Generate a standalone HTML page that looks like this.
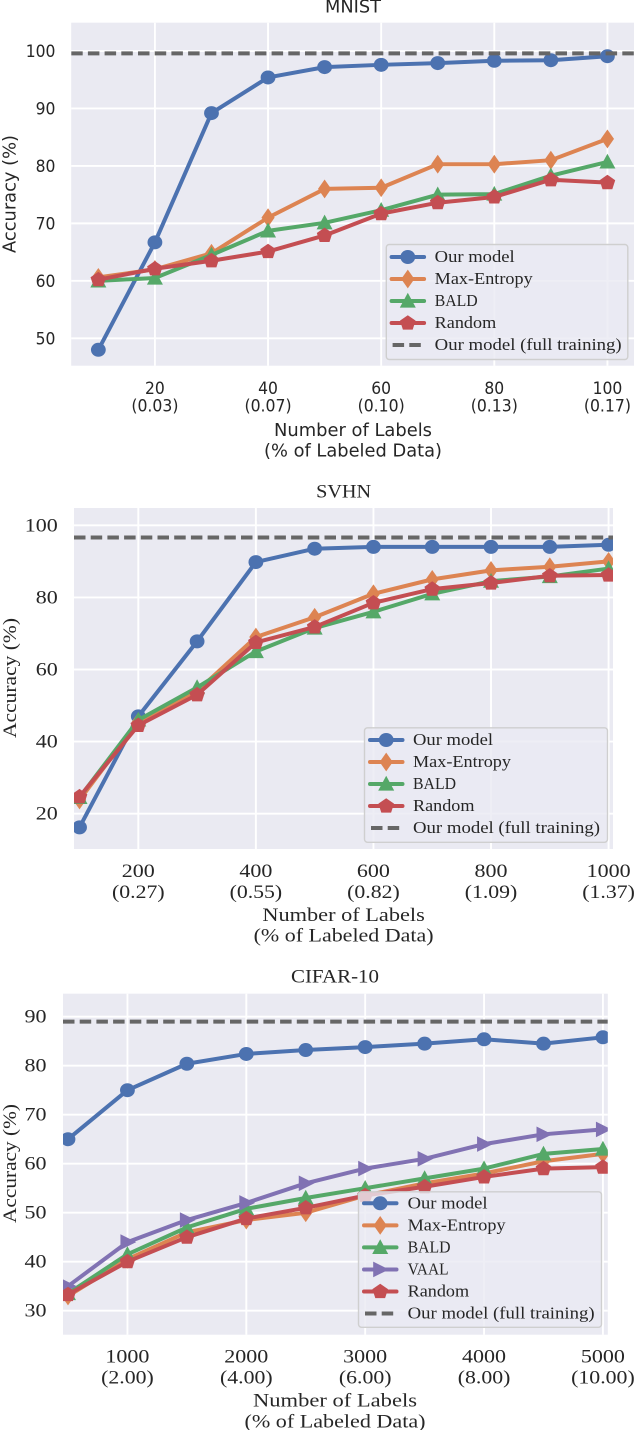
<!DOCTYPE html>
<html>
<head>
<meta charset="utf-8">
<title>Accuracy versus number of labels</title>
<style>
html,body{margin:0;padding:0;background:#fff;width:634px;height:1430px;overflow:hidden}
svg{display:block;filter:blur(0.35px)}
</style>
</head>
<body>
<svg id="figure" xmlns="http://www.w3.org/2000/svg" width="634" height="1430" viewBox="0 0 634 1430"></svg>
<script>
// ---------- MNIST data ----------
const mnistLabels = [10,20,30,40,50,60,70,80,90,100];
const mnistOurModel = [48,66.7,89.2,95.4,97.2,97.6,97.9,98.3,98.4,99.1];
const mnistMaxEntropy = [60.6,62,64.8,71,76,76.2,80.3,80.3,81,84.7];
const mnistBald = [60,60.5,64.5,68.7,70.1,72.3,75,75.1,78.3,80.7];
const mnistRandom = [60.2,62.1,63.5,65.1,67.9,71.7,73.6,74.6,77.6,77.1];
const mnistFullTraining = [99.6];
const mnistXTicks = [20,40,60,80,100];
const mnistXPercents = ['(0.03)','(0.07)','(0.10)','(0.13)','(0.17)'];
const mnistYTicks = [50,60,70,80,90,100];

// ---------- SVHN data ----------
const svhnLabels = [100,200,300,400,500,600,700,800,900,1000];
const svhnOurModel = [16.2,47,67.8,89.8,93.5,94,94,94,94,94.6];
const svhnMaxEntropy = [23.8,45.5,54,69,74.5,81,85,87.5,88.5,90];
const svhnBald = [24.5,46,55,65,71.5,76,81,84.5,85.8,88];
const svhnRandom = [24.7,44.5,53,67.5,71.8,78.5,82.3,84,86,86.2];
const svhnFullTraining = [96.6];
const svhnXTicks = [200,400,600,800,1000];
const svhnXPercents = ['(0.27)','(0.55)','(0.82)','(1.09)','(1.37)'];
const svhnYTicks = [20,40,60,80,100];

// ---------- CIFAR-10 data ----------
const cifarLabels = [500,1000,1500,2000,2500,3000,3500,4000,4500,5000];
const cifarOurModel = [65,75,80.4,82.4,83.2,83.8,84.5,85.4,84.5,85.8];
const cifarMaxEntropy = [33,40.5,46,48.5,50,53.5,56,58,60.5,62];
const cifarBald = [33.5,41.5,47,50.8,53,55,57,59,62,63];
const cifarVaal = [35,44,48.5,52,56,59,61,64,66,67];
const cifarRandom = [33.3,40,45,48.8,51,53.5,55.3,57.3,59,59.3];
const cifarFullTraining = [89];
const cifarXTicks = [1000,2000,3000,4000,5000];
const cifarXPercents = ['(2.00)','(4.00)','(6.00)','(8.00)','(10.00)'];
const cifarYTicks = [30,40,50,60,70,80,90];

// ---------- shared names ----------
const fullTrainingName = 'Our model (full training)';
const xTitleLine1 = 'Number of Labels';
const xTitleLine2 = '(% of Labeled Data)';
const yTitle = 'Accuracy (%)';

const NS = 'http://www.w3.org/2000/svg';
const SANS = '"DejaVu Sans", "Liberation Sans", sans-serif';
const SERIF = '"Liberation Serif", "DejaVu Serif", serif';
const INK = '#262626';
const BG = '#EAEAF2';
const DASH = '#666666';
const root = document.getElementById('figure');

const styleOf = {
  'Our model': {color:'#4C72B0', marker:'circle', slug:'our-model', w:80},
  'Max-Entropy': {color:'#DD8452', marker:'diamond', slug:'max-entropy', w:98},
  'BALD': {color:'#55A868', marker:'triangle', slug:'bald', w:43},
  'VAAL': {color:'#8172B3', marker:'right', slug:'vaal', w:41},
  'Random': {color:'#C44E52', marker:'pentagon', slug:'random', w:61.5}
};

function make(tag, parent, attrs) {
  const el = document.createElementNS(NS, tag);
  for (const k in attrs) el.setAttribute(k, attrs[k]);
  parent.appendChild(el);
  return el;
}

function label(parent, str, x, y, o, name) {
  const el = make('text', parent, {x:x, y:y, fill:INK, 'font-family':o.font, 'font-size':o.size, 'text-anchor':o.anchor || 'middle'});
  if (o.width) {
    el.setAttribute('textLength', o.width);
    el.setAttribute('lengthAdjust', 'spacingAndGlyphs');
  }
  if (o.rotate) el.setAttribute('transform', 'rotate(-90 ' + x + ' ' + y + ')');
  el.textContent = str;
  
  
  return el;
}

function serifWidth(str) {
  let w = 0;
  for (const c of String(str)) w += c === '.' ? 5.6 : (c === '(' || c === ')') ? 7 : 11;
  return w;
}

function sansWidth(str) {
  let w = 0;
  for (const c of String(str)) w += c === '.' ? 5 : (c === '(' || c === ')') ? 6.2 : 9.9;
  return w;
}

function tickFontOf(c, str, anchor) {
  if (c.tickFont === SANS) return {font:SANS, size:17, anchor:anchor, width:sansWidth(str)};
  return {font:SERIF, size:18.5, anchor:anchor, width:serifWidth(str)};
}

function marker(parent, kind, cx, cy, color, name) {
  let el;
  const pts = function (list) { return list.map(function (p) { return (cx + p[0]) + ',' + (cy + p[1]); }).join(' '); };
  if (kind === 'circle') {
    el = make('ellipse', parent, {cx:cx, cy:cy, rx:7.4, ry:7, fill:color});
  } else if (kind === 'diamond') {
    el = make('polygon', parent, {points:pts([[0,-9.4],[6.6,0],[0,9.4],[-6.6,0]]), fill:color});
  } else if (kind === 'triangle') {
    el = make('polygon', parent, {points:pts([[0,-8.2],[8,6.6],[-8,6.6]]), fill:color});
  } else if (kind === 'right') {
    el = make('polygon', parent, {points:pts([[8.8,0],[-7,-7.8],[-7,7.8]]), fill:color});
  } else {
    el = make('polygon', parent, {points:pts([[0,-7.8],[7.8,-2.4],[4.9,6.6],[-4.9,6.6],[-7.8,-2.4]]), fill:color});
  }
  
  
  return el;
}

function drawChart(c) {
  const xPos = function (v) { return c.plot.l + (v - c.xDomain[0]) / (c.xDomain[1] - c.xDomain[0]) * (c.plot.r - c.plot.l); };
  const yPos = function (v) { return c.plot.b - (v - c.yDomain[0]) / (c.yDomain[1] - c.yDomain[0]) * (c.plot.b - c.plot.t); };

  const g = make('g', root, {});
  
  

  const clipId = c.id + '-clip';
  const clip = make('clipPath', g, {id:clipId});
  make('rect', clip, {x:c.plot.l, y:c.plot.t, width:c.plot.r - c.plot.l, height:c.plot.b - c.plot.t});

  const bg = make('rect', g, {x:c.plot.l, y:c.plot.t, width:c.plot.r - c.plot.l, height:c.plot.b - c.plot.t, fill:BG});
  
  

  c.xTicks.forEach(function (t, i) {
    const line = make('line', g, {x1:xPos(t), x2:xPos(t), y1:c.plot.t, y2:c.plot.b, stroke:'#fff', 'stroke-width':1.9});
    
    
    label(g, t, xPos(t), c.xTickY[0], tickFontOf(c, t, 'middle'), c.id + '-x-tick-label');
    label(g, c.xPercents[i], xPos(t), c.xTickY[1], tickFontOf(c, c.xPercents[i], 'middle'), c.id + '-x-tick-percent');
  });
  c.yTicks.forEach(function (t) {
    const line = make('line', g, {x1:c.plot.l, x2:c.plot.r, y1:yPos(t), y2:yPos(t), stroke:'#fff', 'stroke-width':1.9});
    
    
    label(g, t, c.yTickX, yPos(t) + 6, tickFontOf(c, t, 'end'), c.id + '-y-tick-label');
  });

  const marks = make('g', g, {'clip-path':'url(#' + clipId + ')'});
  c.series.forEach(function (s) {
    const st = styleOf[s.name];
    const sg = make('g', marks, {});
    
    
    const points = s.values.map(function (v, i) { return xPos(c.labels[i]) + ',' + yPos(v); }).join(' ');
    const line = make('polyline', sg, {points:points, fill:'none', stroke:st.color, 'stroke-width':4, 'stroke-linejoin':'round'});
    
    
    s.values.forEach(function (v, i) {
      marker(sg, st.marker, xPos(c.labels[i]), yPos(v), st.color, st.slug + '-point');
    });
  });
  const full = make('line', marks, {x1:c.plot.l, x2:c.plot.r, y1:yPos(c.full[0]), y2:yPos(c.full[0]), stroke:DASH, 'stroke-width':4, 'stroke-dasharray':'11.5 5.2'});
  
  

  // legend
  const lg = make('g', g, {});
  
  
  const box = c.legend;
  make('rect', lg, {x:box.x, y:box.y, width:box.w, height:box.h, rx:3, ry:3, fill:BG, 'fill-opacity':0.8, stroke:'#cfcfcf', 'stroke-width':1.4});
  const names = c.series.map(function (s) { return s.name; });
  names.forEach(function (n, i) {
    const st = styleOf[n];
    const ry = box.row0 + i * box.step;
    const entry = make('g', lg, {});
    
    
    make('line', entry, {x1:box.hx, x2:box.hx + 32.5, y1:ry, y2:ry, stroke:st.color, 'stroke-width':4, 'stroke-linecap':'round'});
    marker(entry, st.marker, box.hx + 16.2, ry, st.color, 'legend-marker-' + st.slug);
    label(entry, n, box.tx, ry + 5, {font:SERIF, size:17, anchor:'start', width:st.w}, 'legend-label-' + st.slug);
  });
  const fy = box.row0 + names.length * box.step;
  const fe = make('g', lg, {});
  
  
  make('line', fe, {x1:box.hx + 1, x2:box.hx + 32, y1:fy, y2:fy, stroke:DASH, 'stroke-width':4, 'stroke-dasharray':'11.5 5.2'});
  label(fe, fullTrainingName, box.tx, fy + 5, {font:SERIF, size:17, anchor:'start', width:187}, 'legend-label-full-training');

  // titles
  const t = c.titles;
  label(g, c.title, t.cx, t.titleY, t.titleFont, c.id + '-title');
  label(g, xTitleLine1, t.cx, t.x1Y, t.x1Font, c.id + '-x-axis-title');
  label(g, xTitleLine2, t.cx, t.x2Y, t.x2Font, c.id + '-x-axis-subtitle');
  label(g, yTitle, t.yX, t.yY, t.yFont, c.id + '-y-axis-title');
}

drawChart({
  id:'mnist', title:'MNIST', labels:mnistLabels, full:mnistFullTraining,
  xTicks:mnistXTicks, xPercents:mnistXPercents, yTicks:mnistYTicks,
  series:[{name:'Our model', values:mnistOurModel},{name:'Max-Entropy', values:mnistMaxEntropy},{name:'BALD', values:mnistBald},{name:'Random', values:mnistRandom}],
  plot:{l:71.2, r:634, t:22.7, b:365.7}, xDomain:[5.2,104.7], yDomain:[45.23,104.93],
  tickFont:SANS, xTickY:[394,411.7], yTickX:55.4,
  legend:{x:386.3, y:244.5, w:241.5, h:115, row0:257, step:22, hx:391.6, tx:434.7},
  titles:{cx:353, titleY:12.7, titleFont:{font:SANS, size:18, width:56},
    x1Y:436, x1Font:{font:SANS, size:17.5, width:158}, x2Y:456.7, x2Font:{font:SANS, size:17.5, width:178},
    yX:15.5, yY:194, yFont:{font:SANS, size:17.5, width:118, rotate:true}}
});

drawChart({
  id:'svhn', title:'SVHN', labels:svhnLabels, full:svhnFullTraining,
  xTicks:svhnXTicks, xPercents:svhnXPercents, yTicks:svhnYTicks,
  series:[{name:'Our model', values:svhnOurModel},{name:'Max-Entropy', values:svhnMaxEntropy},{name:'BALD', values:svhnBald},{name:'Random', values:svhnRandom}],
  plot:{l:74, r:613, t:508, b:849}, xDomain:[90.6,1007.5], yDomain:[10.2,104.8],
  tickFont:SERIF, xTickY:[877,898], yTickX:57.8,
  legend:{x:364.5, y:727.8, w:243, h:114.5, row0:740, step:22, hx:370, tx:413},
  titles:{cx:343.6, titleY:497.7, titleFont:{font:SERIF, size:19, width:55},
    x1Y:921, x1Font:{font:SERIF, size:18.5, width:162.5}, x2Y:941.7, x2Font:{font:SERIF, size:18.5, width:180},
    yX:16, yY:678, yFont:{font:SERIF, size:18.5, width:120, rotate:true}}
});

drawChart({
  id:'cifar', title:'CIFAR-10', labels:cifarLabels, full:cifarFullTraining,
  xTicks:cifarXTicks, xPercents:cifarXPercents, yTicks:cifarYTicks,
  series:[{name:'Our model', values:cifarOurModel},{name:'Max-Entropy', values:cifarMaxEntropy},{name:'BALD', values:cifarBald},{name:'VAAL', values:cifarVaal},{name:'Random', values:cifarRandom}],
  plot:{l:63, r:607.8, t:993.7, b:1334.7}, xDomain:[458,5041], yDomain:[25.1,94.7],
  tickFont:SERIF, xTickY:[1362.7,1383.3], yTickX:46.5,
  legend:{x:358.5, y:1191.8, w:243, h:135.5, row0:1203.3, step:22.05, hx:364, tx:407.6},
  titles:{cx:335, titleY:982.7, titleFont:{font:SERIF, size:19, width:88},
    x1Y:1406.7, x1Font:{font:SERIF, size:18.5, width:164}, x2Y:1427.3, x2Font:{font:SERIF, size:18.5, width:181},
    yX:16, yY:1163.5, yFont:{font:SERIF, size:18.5, width:119, rotate:true}}
});
</script>
</body>
</html>
